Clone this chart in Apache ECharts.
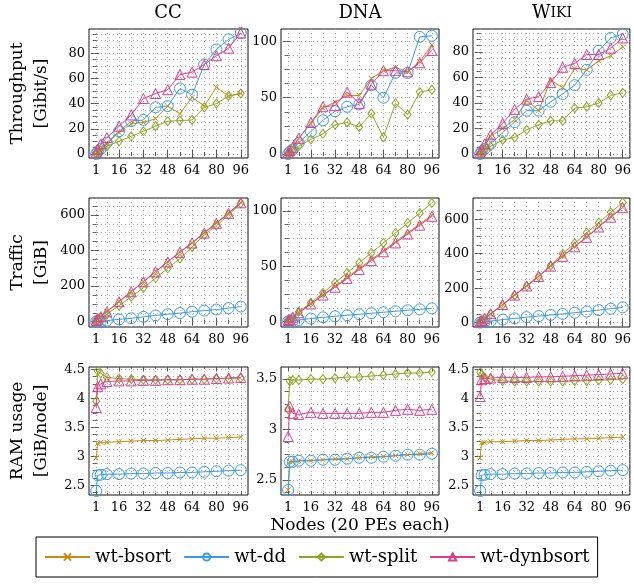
<!DOCTYPE html>
<html>
<head>
<meta charset="utf-8">
<script src="https://cdn.jsdelivr.net/npm/echarts@6/dist/echarts.min.js"></script>
<style>
html, body { margin: 0; padding: 0; background: #fff; }
#chart { width: 634px; height: 586px; }
</style>
</head>
<body>
<div id="chart"></div>
<script>
var nodes = [1, 2, 4, 8, 16, 24, 32, 40, 48, 56, 64, 72, 80, 88, 96];
var xTicks = [1, 16, 32, 48, 64, 80, 96];
var xMinor = [8.5, 24, 40, 56, 72, 88];

// throughput [Gibit/s]
var ccTpBsort = [0, 2, 4, 8, 17, 24, 25, 28, 38, 32, 45, 38, 53, 46, 48];
var ccTpDd = [0, 2, 4, 9, 18, 26, 27, 37, 38, 52, 47, 71, 83, 91, 96];
var ccTpSplit = [0, 1, 3, 6, 10, 14, 18, 22, 26, 26.5, 27, 37, 40, 46, 48];
var ccTpDyn = [1, 4, 8, 13, 22, 31, 44, 48, 51, 63, 65, 71, 78, 84, 96];

var dnaTpBsort = [0, 3, 6, 14, 27, 41, 46, 52, 52, 67, 74, 77, 73, 82, 97];
var dnaTpDd = [0, 2, 4, 10, 20, 30, 38, 42, 44, 61, 50, 72, 72, 104, 105];
var dnaTpSplit = [0, 1, 3, 7, 13, 18, 26, 28, 24, 36, 15, 45, 35, 55, 57];
var dnaTpDyn = [1, 3, 6, 14, 28, 42, 43, 55, 45, 62, 74, 74, 73, 81, 92];

var wikiTpBsort = [0, 3, 6, 14, 20, 27, 42, 34, 58, 52, 67, 66, 73, 77, 84];
var wikiTpDd = [0, 2, 4, 8, 17, 25, 34, 34, 41, 47, 54, 66, 81, 91, 94];
var wikiTpSplit = [0, 1, 3, 6, 11, 13, 19, 23, 26, 26, 36, 37, 40, 46, 48];
var wikiTpDyn = [1, 4, 8, 15, 24, 35, 43, 45, 56, 68, 71, 78, 78, 83, 91];

// traffic [GiB]
var ccTrBsort = [7, 14, 28, 56, 113, 169, 226, 282, 338, 392, 444, 500, 555, 611, 670];
var ccTrDd = [1, 2, 3, 6, 13, 19, 27, 35, 42, 48, 56, 62, 68, 76, 85];
var ccTrSplit = [5, 10, 20, 42, 90, 140, 190, 245, 300, 355, 420, 487, 540, 600, 665];
var ccTrDyn = [7, 14, 28, 55, 112, 168, 224, 280, 336, 390, 442, 498, 553, 609, 668];

var dnaTrBsort = [1, 2, 4, 8, 16, 24, 32, 40, 48, 56, 64, 72, 80, 88, 96];
var dnaTrDd = [0.2, 0.4, 0.8, 1.5, 2.8, 3.9, 4.9, 5.8, 6.7, 7.6, 8.5, 9.4, 10.3, 11.1, 12];
var dnaTrSplit = [1, 2, 4, 9, 17, 26, 35, 44, 53, 62, 71, 80, 89, 98, 107];
var dnaTrDyn = [1, 2, 4, 8, 16, 24, 31, 39, 47, 55, 63, 71, 79, 87, 95];

var wikiTrBsort = [6, 13, 26, 52, 106, 161, 214, 269, 330, 387, 442, 497, 557, 614, 669];
var wikiTrDd = [1, 2, 4, 9, 18, 25, 32, 38, 45, 51, 58, 65, 73, 81, 89];
var wikiTrSplit = [6, 12, 25, 50, 103, 158, 212, 268, 332, 400, 460, 522, 580, 640, 697];
var wikiTrDyn = [6, 13, 26, 52, 105, 160, 213, 268, 328, 385, 440, 495, 555, 612, 667];

// RAM usage [GiB/node]
var ccRamBsort = [2.97, 3.22, 3.24, 3.24, 3.25, 3.26, 3.27, 3.27, 3.28, 3.29, 3.3, 3.31, 3.31, 3.32, 3.33];
var ccRamDd = [2.4, 2.67, 2.68, 2.69, 2.69, 2.7, 2.7, 2.71, 2.71, 2.72, 2.72, 2.73, 2.74, 2.75, 2.76];
var ccRamSplit = [3.95, 4.47, 4.43, 4.36, 4.34, 4.33, 4.32, 4.32, 4.32, 4.32, 4.33, 4.33, 4.34, 4.34, 4.35];
var ccRamDyn = [3.84, 4.2, 4.25, 4.29, 4.3, 4.3, 4.31, 4.31, 4.32, 4.32, 4.33, 4.33, 4.34, 4.35, 4.36];

var dnaRamBsort = [2.4, 2.68, 2.68, 2.69, 2.69, 2.7, 2.71, 2.71, 2.72, 2.73, 2.73, 2.74, 2.75, 2.76, 2.77];
var dnaRamDd = [2.4, 2.68, 2.68, 2.69, 2.69, 2.7, 2.7, 2.71, 2.72, 2.72, 2.73, 2.74, 2.75, 2.75, 2.76];
var dnaRamSplit = [3.2, 3.48, 3.49, 3.49, 3.5, 3.5, 3.51, 3.52, 3.52, 3.53, 3.54, 3.55, 3.56, 3.56, 3.57];
var dnaRamDyn = [2.93, 3.23, 3.16, 3.15, 3.17, 3.16, 3.16, 3.16, 3.16, 3.17, 3.17, 3.19, 3.2, 3.19, 3.2];

var wikiRamBsort = [2.97, 3.23, 3.24, 3.25, 3.25, 3.26, 3.27, 3.27, 3.28, 3.29, 3.3, 3.3, 3.31, 3.32, 3.33];
var wikiRamDd = [2.4, 2.67, 2.68, 2.69, 2.69, 2.7, 2.7, 2.71, 2.71, 2.72, 2.72, 2.73, 2.74, 2.75, 2.76];
var wikiRamSplit = [4.45, 4.4, 4.36, 4.33, 4.3, 4.29, 4.29, 4.29, 4.29, 4.29, 4.3, 4.3, 4.31, 4.32, 4.33];
var wikiRamDyn = [4.03, 4.32, 4.34, 4.35, 4.36, 4.36, 4.36, 4.37, 4.37, 4.38, 4.39, 4.4, 4.41, 4.42, 4.43];

// y ticks
var tpTicks = [0, 20, 40, 60, 80];
var tpMinor = [5, 10, 15, 25, 30, 35, 45, 50, 55, 65, 70, 75, 85, 90, 95];
var fiftyTicks = [0, 50, 100];
var fiftyMinor = [12.5, 25, 37.5, 62.5, 75, 87.5];
var trTicks = [0, 200, 400, 600];
var trMinor = [50, 100, 150, 250, 300, 350, 450, 500, 550, 650];
var ramTicks = [2.5, 3, 3.5, 4, 4.5];
var ramMinor = [2.375, 2.625, 2.75, 2.875, 3.125, 3.25, 3.375, 3.625, 3.75, 3.875, 4.125, 4.25, 4.375];
var dnaRamTicks = [2.5, 3, 3.5];
var dnaRamMinor = [2.375, 2.625, 2.75, 2.875, 3.125, 3.25, 3.375];

var names = ['wt-bsort', 'wt-dd', 'wt-split', 'wt-dynbsort'];
var colors = ['#c48c10', '#3b9ce0', '#8da520', '#e03a8c'];
var symbols = ['path://M0,0L10,10M10,0L0,10', 'circle', 'diamond', 'triangle'];
var symbolSizes = [5, 11, [7, 9], 10];

var panels = [
    {data: [ccTpBsort, ccTpDd, ccTpSplit, ccTpDyn], min: -3.2, max: 99.2, ticks: tpTicks, minor: tpMinor},
    {data: [dnaTpBsort, dnaTpDd, dnaTpSplit, dnaTpDyn], min: -3.5, max: 111, ticks: fiftyTicks, minor: fiftyMinor},
    {data: [wikiTpBsort, wikiTpDd, wikiTpSplit, wikiTpDyn], min: -3.1, max: 98, ticks: tpTicks, minor: tpMinor},
    {data: [ccTrBsort, ccTrDd, ccTrSplit, ccTrDyn], min: -30, max: 695, ticks: trTicks, minor: trMinor},
    {data: [dnaTrBsort, dnaTrDd, dnaTrSplit, dnaTrDyn], min: -4.8, max: 111.5, ticks: fiftyTicks, minor: fiftyMinor},
    {data: [wikiTrBsort, wikiTrDd, wikiTrSplit, wikiTrDyn], min: -25, max: 723, ticks: trTicks, minor: trMinor},
    {data: [ccRamBsort, ccRamDd, ccRamSplit, ccRamDyn], min: 2.33, max: 4.54, ticks: ramTicks, minor: ramMinor},
    {data: [dnaRamBsort, dnaRamDd, dnaRamSplit, dnaRamDyn], min: 2.35, max: 3.62, ticks: dnaRamTicks, minor: dnaRamMinor},
    {data: [wikiRamBsort, wikiRamDd, wikiRamSplit, wikiRamDyn], min: 2.33, max: 4.54, ticks: ramTicks, minor: ramMinor}
];
var yNames = ['Throughput\n[Gibit/s]', 'Traffic\n[GiB]', 'RAM usage\n[GiB/node]'];

var FONT = 'DejaVu Serif';
var colLeft = [89, 281, 473], colWidth = [159, 158, 159];
var rowTop = [29, 198, 367], rowHeight = [129, 129, 128];
var dotted = {color: '#a8a8a8', width: 1, type: [1, 3]};
var tickStyle = {color: '#555', width: 1};

var grids = [], xAxes = [], yAxes = [], series = [];

panels.forEach(function (p, i) {
    var r = Math.floor(i / 3), c = i % 3;
    grids.push({
        left: colLeft[c], top: rowTop[r], width: colWidth[c], height: rowHeight[r],
        show: true, borderColor: '#111', borderWidth: 1, backgroundColor: 'transparent'
    });
    // major / minor ticks on all four sides
    [['bottom', xTicks, 4, true], ['top', xTicks, 4, false],
     ['bottom', xMinor, 2, false], ['top', xMinor, 2, false]].forEach(function (a) {
        xAxes.push({
            gridIndex: i, type: 'value', min: -3.75, max: 100.75, position: a[0],
            axisLine: {show: false},
            axisTick: {inside: true, length: a[2], customValues: a[1], lineStyle: tickStyle},
            axisLabel: a[3] ? {customValues: xTicks, margin: 6, fontFamily: FONT, fontSize: 13, color: '#000'} : {show: false},
            splitLine: {show: a[0] === 'bottom', lineStyle: dotted}
        });
    });
    [['left', p.ticks, 4, true], ['right', p.ticks, 4, false],
     ['left', p.minor, 2, false], ['right', p.minor, 2, false]].forEach(function (a) {
        var ax = {
            gridIndex: i, type: 'value', min: p.min, max: p.max, position: a[0],
            axisLine: {show: false},
            axisTick: {inside: true, length: a[2], customValues: a[1], lineStyle: tickStyle},
            axisLabel: a[3] ? {customValues: p.ticks, margin: 4, fontFamily: FONT, fontSize: 13, color: '#000'} : {show: false},
            splitLine: {show: a[0] === 'left', lineStyle: dotted}
        };
        if (a[3] && c === 0) {
            ax.name = yNames[r];
            ax.nameLocation = 'middle';
            ax.nameRotate = 90;
            ax.nameGap = 35;
            ax.nameTextStyle = {fontFamily: FONT, fontSize: 17, lineHeight: 24, color: '#000'};
        }
        yAxes.push(ax);
    });
    p.data.forEach(function (vals, k) {
        series.push({
            name: names[k],
            type: 'line',
            xAxisIndex: i * 4,
            yAxisIndex: i * 4,
            data: nodes.map(function (n, j) { return [n, vals[j]]; }),
            symbol: symbols[k],
            symbolSize: symbolSizes[k],
            clip: false,
            lineStyle: {color: colors[k], width: 1},
            itemStyle: {color: 'transparent', borderColor: colors[k], borderWidth: 1},
            emphasis: {disabled: true}
        });
    });
});

var chart = echarts.init(document.getElementById('chart'));
chart.setOption({
    animation: false,
    title: [
        {text: 'CC', left: 168, top: 4, textAlign: 'center', padding: 0,
         textStyle: {fontFamily: FONT, fontSize: 18, fontWeight: 'normal', color: '#000'}},
        {text: 'DNA', left: 360, top: 4, textAlign: 'center', padding: 0,
         textStyle: {fontFamily: FONT, fontSize: 18, fontWeight: 'normal', color: '#000'}},
        {text: '{a|W}{b|IKI}', left: 552, top: 4, textAlign: 'center', padding: 0,
         textStyle: {fontFamily: FONT, fontWeight: 'normal', color: '#000',
             rich: {a: {fontFamily: FONT, fontSize: 18, color: '#000'}, b: {fontFamily: FONT, fontSize: 14, color: '#000'}}}},
        {text: 'Nodes (20 PEs each)', left: 360, top: 517, textAlign: 'center', padding: 0,
         textStyle: {fontFamily: FONT, fontSize: 17, fontWeight: 'normal', color: '#000'}}
    ],
    legend: {
        data: names, left: 36, top: 537, itemWidth: 45, itemHeight: 9, itemGap: 12,
        padding: [11, 8], borderColor: '#000', borderWidth: 1, selectedMode: false,
        textStyle: {fontFamily: FONT, fontSize: 18, color: '#000'}
    },
    grid: grids,
    xAxis: xAxes,
    yAxis: yAxes,
    series: series
});
</script>
</body>
</html>
